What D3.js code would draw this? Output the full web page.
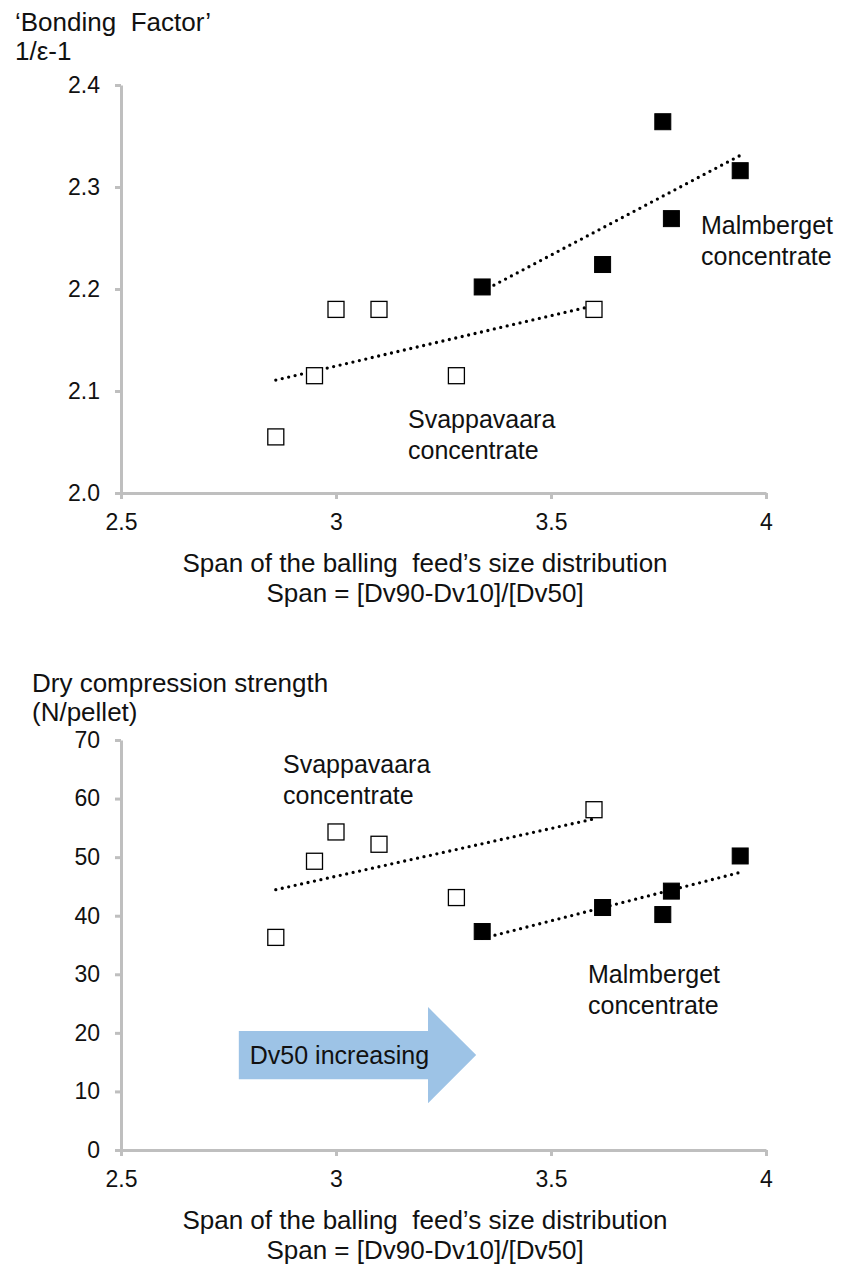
<!DOCTYPE html>
<html>
<head>
<meta charset="utf-8">
<script src="https://cdn.jsdelivr.net/npm/d3@7"></script>
<style>
  html, body { margin: 0; padding: 0; background: #fff; }
  svg { display: block; font-family: "Liberation Sans", Arial, sans-serif; }
</style>
</head>
<body>
<svg id="chart" width="844" height="1266"></svg>
<script>
// Span of the balling feed's size distribution, per test
const spanSvappavaara = [2.86, 2.95, 3.0, 3.1, 3.28, 3.6];
const spanMalmberget  = [3.34, 3.62, 3.76, 3.94, 3.78];

// Bonding factor 1/ε-1
const bondingSvappavaara = [2.055, 2.115, 2.18, 2.18, 2.115, 2.18];
const bondingMalmberget  = [2.202, 2.224, 2.364, 2.316, 2.269];

// Dry compression strength (N/pellet)
const strengthSvappavaara = [36.3, 49.3, 54.3, 52.2, 43.1, 58.1];
const strengthMalmberget  = [37.3, 41.4, 40.2, 50.2, 44.2];

// Axis ticks
const spanTicks = [2.5, 3, 3.5, 4];
const bondingTicks = [2.0, 2.1, 2.2, 2.3, 2.4];
const strengthTicks = [0, 10, 20, 30, 40, 50, 60, 70];

const svg = d3.select("#chart");
const AXIS_COLOR = "#bfbfbf";

// least-squares trend line over one series, drawn from min to max span
function trend(xs, ys) {
  const mx = d3.mean(xs), my = d3.mean(ys);
  const sxy = d3.sum(xs, (x, i) => (x - mx) * (ys[i] - my));
  const sxx = d3.sum(xs, x => (x - mx) * (x - mx));
  const b = sxy / sxx, a = my - b * mx;
  const [x0, x1] = d3.extent(xs);
  return [[x0, a + b * x0], [x1, a + b * x1]];
}

function panel(opt) {
  const g = svg.append("g");
  const x = d3.scaleLinear().domain([2.5, 4]).range([121, 766]);
  const y = d3.scaleLinear().domain(opt.yDomain).range(opt.yRange);

  // axes
  const yAxis = d3.axisLeft(y).tickValues(opt.yTicks).tickFormat(opt.yFormat)
    .tickSize(6).tickSizeOuter(0).tickPadding(15);
  const xAxis = d3.axisBottom(x).tickValues(spanTicks).tickFormat(d3.format("~g"))
    .tickSize(6).tickSizeOuter(0).tickPadding(14.5);

  const ya = g.append("g").attr("transform", "translate(121,0)").call(yAxis);
  const xa = g.append("g").attr("transform", `translate(0,${opt.yRange[0]})`).call(xAxis);
  [ya, xa].forEach(a => {
    a.select(".domain").attr("stroke", AXIS_COLOR).attr("stroke-width", 3);
    a.selectAll(".tick line").attr("stroke", AXIS_COLOR).attr("stroke-width", 3);
    a.selectAll(".tick text").attr("fill", "#111").style("font-size", "23px")
      .style("font-family", "'Liberation Sans', Arial, sans-serif");
  });

  // trend lines
  const line = d3.line().x(d => x(d[0])).y(d => y(d[1]));
  opt.series.forEach(s => {
    g.append("path")
      .attr("d", line(trend(s.xs, s.ys)))
      .attr("fill", "none").attr("stroke", "#000").attr("stroke-width", 3.3)
      .attr("stroke-linecap", "round").attr("stroke-dasharray", "0 6.6");
  });

  // markers
  const size = 16;
  opt.series.forEach(s => {
    g.append("g").selectAll("rect")
      .data(s.xs.map((v, i) => [v, s.ys[i]]))
      .join("rect")
      .attr("x", d => x(d[0]) - size / 2)
      .attr("y", d => y(d[1]) - size / 2)
      .attr("width", size).attr("height", size)
      .attr("fill", s.filled ? "#000" : "#fff")
      .attr("stroke", "#000").attr("stroke-width", s.filled ? 1 : 1.3);
  });

  // y axis title
  const yt = g.append("text").attr("fill", "#111").style("font-size", "26px");
  opt.yTitle.forEach((t, i) => {
    yt.append("tspan").attr("x", opt.yTitleX).attr("y", opt.yTitleY + i * 29)
      .style("white-space", "pre").text(t);
  });

  // x axis title
  const xt = g.append("text").attr("fill", "#111").style("font-size", "26px")
    .attr("text-anchor", "middle");
  ["Span of the balling  feed’s size distribution", "Span = [Dv90-Dv10]/[Dv50]"].forEach((t, i) => {
    xt.append("tspan").attr("x", 425).attr("y", opt.xTitleY + i * 30)
      .style("white-space", "pre").text(t);
  });

  // series annotations
  opt.notes.forEach(n => {
    const t = g.append("text").attr("fill", "#111").style("font-size", "25px");
    n.lines.forEach((s, i) => {
      t.append("tspan").attr("x", n.x).attr("y", n.y + i * 31).text(s);
    });
  });

  return { g, x, y };
}

// Bonding factor panel
panel({
  yDomain: [2.0, 2.4], yRange: [493, 85],
  yTicks: bondingTicks, yFormat: d3.format(".1f"),
  yTitle: ["‘Bonding  Factor’", "1/ε-1"], yTitleX: 15, yTitleY: 31,
  xTitleY: 572,
  series: [
    { xs: spanSvappavaara, ys: bondingSvappavaara, filled: false },
    { xs: spanMalmberget,  ys: bondingMalmberget,  filled: true }
  ],
  notes: [
    { x: 701, y: 234, lines: ["Malmberget", "concentrate"] },
    { x: 408, y: 428, lines: ["Svappavaara", "concentrate"] }
  ]
});

// Dry compression strength panel
const p2 = panel({
  yDomain: [0, 70], yRange: [1150, 740],
  yTicks: strengthTicks, yFormat: d3.format("d"),
  yTitle: ["Dry compression strength", "(N/pellet)"], yTitleX: 32, yTitleY: 692,
  xTitleY: 1229,
  series: [
    { xs: spanSvappavaara, ys: strengthSvappavaara, filled: false },
    { xs: spanMalmberget,  ys: strengthMalmberget,  filled: true }
  ],
  notes: [
    { x: 283, y: 773, lines: ["Svappavaara", "concentrate"] },
    { x: 588, y: 983, lines: ["Malmberget", "concentrate"] }
  ]
});

// block arrow: Dv50 increasing
{
  const { g, x, y } = p2;
  const bodyL = 2.774, bodyR = 3.214, tip = 3.326;
  const bodyTop = 20.3, bodyBot = 12.1, headTop = 24.4, headBot = 8.0, mid = 16.2;
  const pts = [
    [bodyL, bodyTop], [bodyR, bodyTop], [bodyR, headTop], [tip, mid],
    [bodyR, headBot], [bodyR, bodyBot], [bodyL, bodyBot]
  ].map(p => [x(p[0]), y(p[1])]);
  g.append("polygon").attr("points", pts.map(p => p.join(",")).join(" "))
    .attr("fill", "#9dc3e6");
  g.append("text").attr("x", x(bodyL) + 11).attr("y", y(mid) + 9)
    .attr("fill", "#111").style("font-size", "25px").text("Dv50 increasing");
}
</script>
</body>
</html>
